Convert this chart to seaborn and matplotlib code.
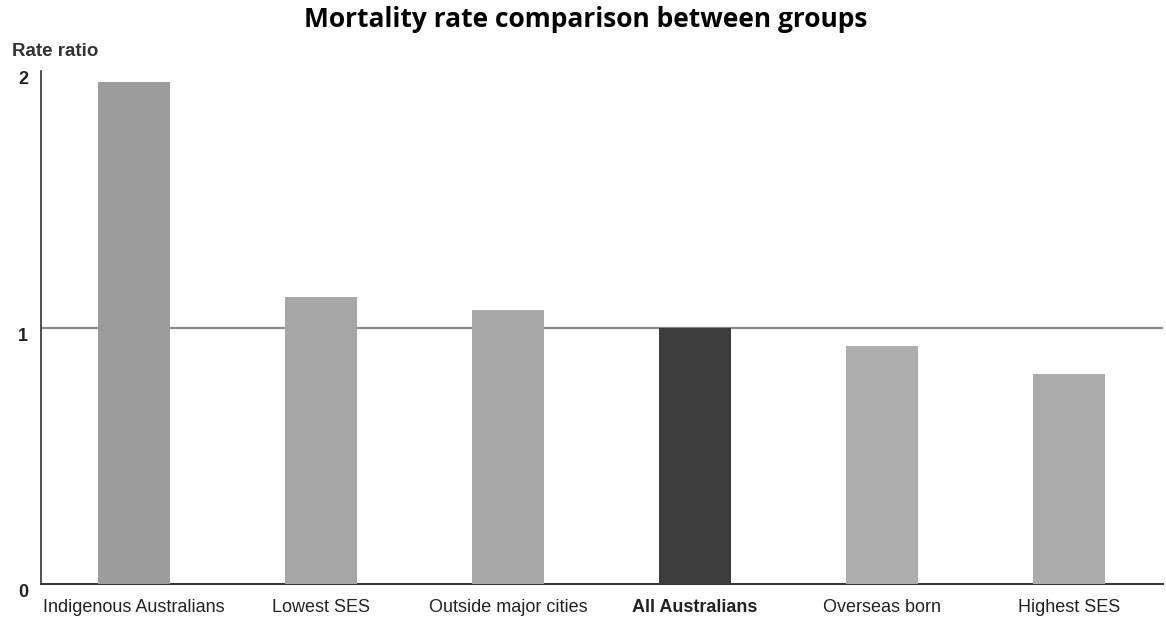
import matplotlib
matplotlib.use("Agg")
import matplotlib.pyplot as plt
import seaborn as sns
import pandas as pd

# data
groups = ["Indigenous Australians", "Lowest SES", "Outside major cities",
          "All Australians", "Overseas born", "Highest SES"]
rate_ratio = [1.96, 1.12, 1.07, 1.00, 0.93, 0.82]
bar_colors = ["#9c9c9c", "#a6a6a6", "#a9a9a9", "#3c3c3c", "#adadad", "#ababab"]
y_ticks = [0, 1, 2]

df = pd.DataFrame({"group": groups, "ratio": rate_ratio})

sns.set_style("white")
plt.rcParams["font.family"] = ["Liberation Sans", "DejaVu Sans"]

fig = plt.figure(figsize=(11.66, 6.23), dpi=100)
ax = fig.add_axes([0.035, 0.0626, 0.962, 0.823])

sns.barplot(data=df, x="group", y="ratio", hue="group", palette=bar_colors,
            width=0.385, legend=False, ax=ax, zorder=3, linewidth=0)

ax.axhline(1, color="#8a8a8a", linewidth=1.6, zorder=2)
ax.set_xlim(-0.5, 5.5)
ax.set_ylim(0, 2.0)
ax.set_yticks(y_ticks)
ax.set_yticklabels([str(t) for t in y_ticks], fontsize=13, fontweight="bold", color="#222222")
ax.tick_params(axis="both", length=0)
ax.tick_params(axis="y", pad=9)
ax.tick_params(axis="x", pad=11)
for lbl in ax.get_yticklabels():
    lbl.set_va("top")
ax.set_xticks(range(len(groups)))
ax.set_xticklabels(groups, fontsize=13, color="#222222")
for lbl in ax.get_xticklabels():
    if lbl.get_text() == "All Australians":
        lbl.set_fontweight("bold")
ax.set_xlabel("")
ax.set_ylabel("")

for s in ["top", "right"]:
    ax.spines[s].set_visible(False)
ax.spines["left"].set_color("#333333")
ax.spines["bottom"].set_color("#333333")
ax.spines["left"].set_linewidth(1.2)
ax.spines["bottom"].set_linewidth(1.4)

fig.text(0.010, 0.918, "Rate ratio", fontsize=13.5, fontweight="bold", color="#333333",
         ha="left", va="center")
fig.text(0.502, 0.968, "Mortality rate comparison between groups", fontsize=19,
         fontweight="bold", color="black", ha="center", va="center",
         family=["Open Sans", "DejaVu Sans"])

fig.savefig("out.png", dpi=100)
